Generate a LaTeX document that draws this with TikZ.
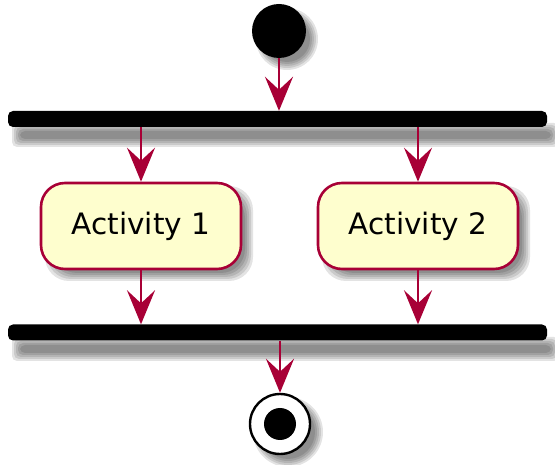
\documentclass[tikz,border=0pt]{standalone}
\usepackage{fontspec}
\setmainfont{DejaVu Sans}
\usetikzlibrary{arrows.meta}
\definecolor{umlred}{HTML}{A80036}
\definecolor{umlfill}{HTML}{FEFECE}
\tikzset{
  shadowcol/.style={fill=black, opacity=0.11},
  activity/.style={draw=umlred, line width=2.6pt, fill=umlfill, rounded corners=24pt,
    minimum width=200pt, minimum height=86pt, inner sep=0pt, font=\fontsize{29.5}{34}\selectfont},
  bar/.style={fill=black, rounded corners=5pt, minimum width=539pt, minimum height=16pt, inner sep=0pt},
  flow/.style={draw=umlred, line width=2.6pt,
    -{Stealth[length=34pt, width=28pt, inset=13pt]}},
}
\newcommand{\myshadowrect}[5]{%
  \foreach \d in {-4,-2,0,2,4}{%
    \fill[shadowcol, rounded corners=#5] ({#1+\d},{#2+\d}) rectangle ({#3-\d},{#4-\d});}}
\newcommand{\myshadowcirc}[3]{%
  \foreach \d in {-4,-2,0,2,4}{%
    \fill[shadowcol] (#1,#2) circle ({#3-\d});}}
\begin{document}
\begin{tikzpicture}[x=1pt,y=-1pt]
\useasboundingbox (0,0) rectangle (555,465);
% shadows
\myshadowcirc{287}{39}{27}
\myshadowrect{16}{127}{555}{143}{5pt}
\myshadowrect{49}{190}{249}{277}{24pt}
\myshadowrect{326}{190}{526}{277}{24pt}
\myshadowrect{16}{341}{555}{357}{5pt}
\myshadowcirc{288}{432}{31}
% nodes
\node[circle, fill=black, minimum size=54pt, inner sep=0pt] (start) at (279,31) {};
\node[bar] (fork) at (277.5,119) {};
\node[activity] (a1) at (141,226) {Activity 1};
\node[activity] (a2) at (418,226) {Activity 2};
\node[bar] (join) at (277.5,332.5) {};
\node[circle, draw=black, line width=2.4pt, fill=white, minimum size=60pt, inner sep=0pt] (stop) at (280,424) {};
\node[circle, fill=black, minimum size=32pt, inner sep=0pt] (stopin) at (stop.center) {};
% connectors
\draw[flow] (start) -- (start |- fork.north);
\draw[flow] (fork.south -| a1) -- (a1);
\draw[flow] (fork.south -| a2) -- (a2);
\draw[flow] (a1) -- (a1 |- join.north);
\draw[flow] (a2) -- (a2 |- join.north);
\draw[flow] (join.south -| stop) -- (stop);
\end{tikzpicture}
\end{document}
